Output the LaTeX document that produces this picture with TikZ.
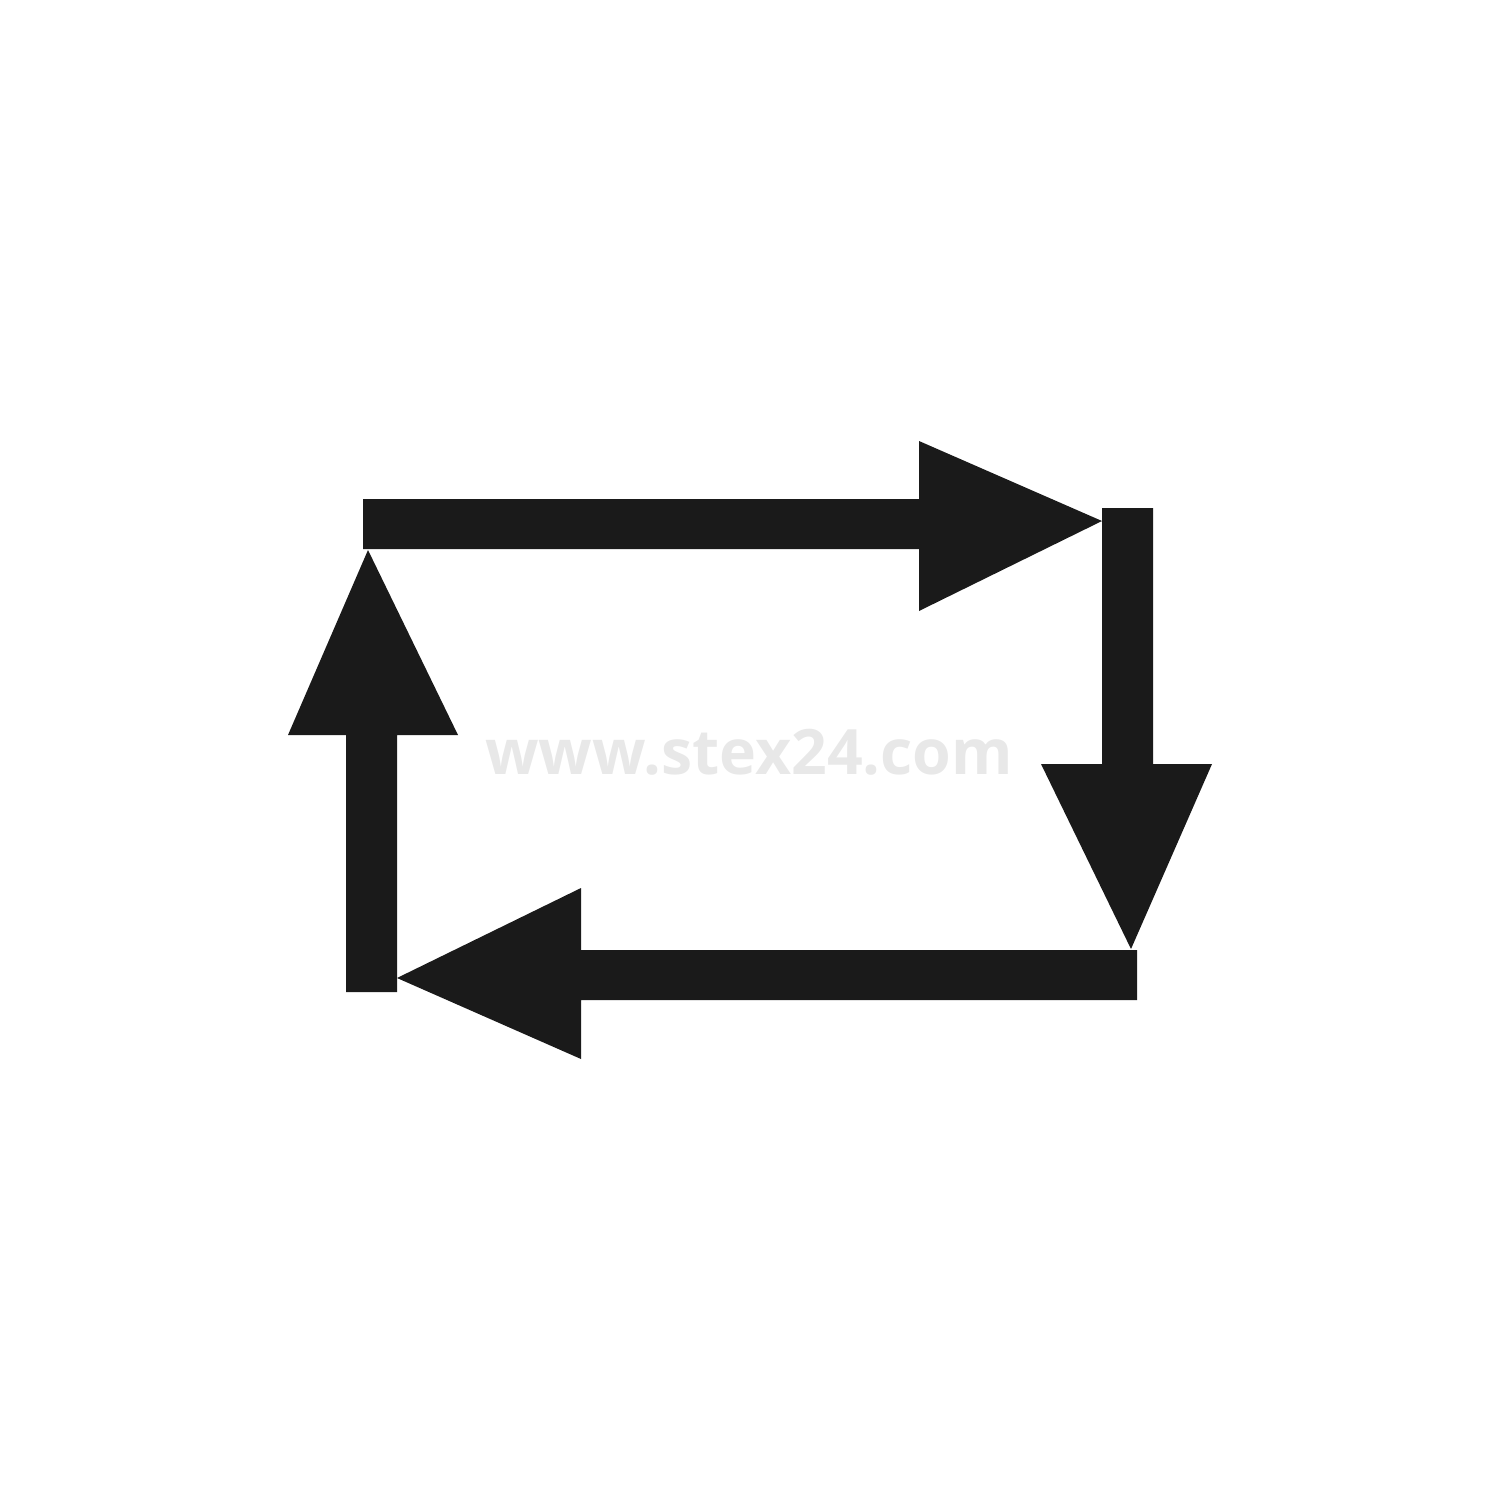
\documentclass[tikz,border=0pt]{standalone}
\usepackage{fontspec}
\newfontfamily\markfont{Open Sans}
\definecolor{arrowblack}{HTML}{1A1A1A}
\definecolor{markgray}{HTML}{E8E8E8}
\tikzset{
    cyclearrow/.style={fill=arrowblack, draw=none},
    watermark/.style={text=markgray, font=\markfont\bfseries\fontsize{17.8}{20}\selectfont, inner sep=0pt}
}
\begin{document}
\begin{tikzpicture}[x=0.01cm, y=-0.01cm]
    \useasboundingbox (0,0) rectangle (1500,1500);

    \node[watermark] (mark) at (749,752) {www.stex24.com};

    % top, pointing right
    \fill[cyclearrow] (363,499) -- (919,499) -- (919,441) -- (1102,521) -- (919,611) -- (919,549) -- (363,549) -- cycle;
    % right, pointing down
    \fill[cyclearrow] (1102,508) -- (1153,508) -- (1153,764) -- (1212,764) -- (1131,949) -- (1041,764) -- (1102,764) -- cycle;
    % bottom, pointing left
    \fill[cyclearrow] (1137,950) -- (1137,1000) -- (581,1000) -- (581,1059) -- (397,978) -- (581,888) -- (581,950) -- cycle;
    % left, pointing up
    \fill[cyclearrow] (346,992) -- (397,992) -- (397,735) -- (458,735) -- (368,550) -- (288,735) -- (346,735) -- cycle;
\end{tikzpicture}
\end{document}
